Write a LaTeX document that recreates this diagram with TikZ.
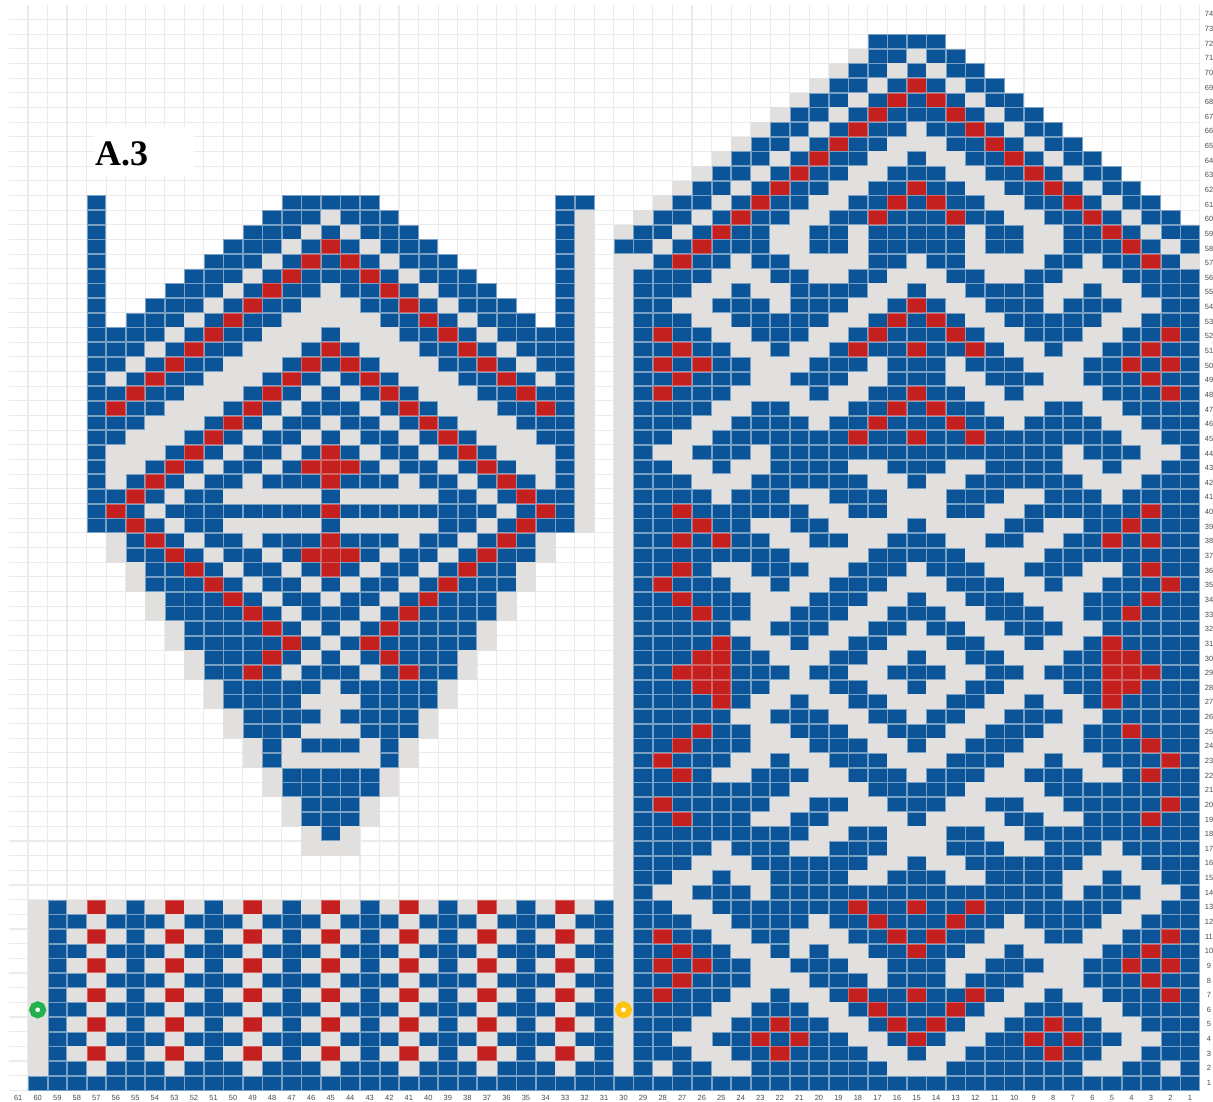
\documentclass[tikz,border=0pt]{standalone}
\usepackage{fontspec}
\setmainfont{Liberation Sans}
\newfontfamily\titlefont{Liberation Serif}
\definecolor{chartblue}{HTML}{0C5498}
\definecolor{chartred}{HTML}{C4201F}
\definecolor{chartgray}{HTML}{E2E0DF}
\definecolor{gridgray}{HTML}{EBEBEB}
\definecolor{ringgreencol}{HTML}{22B14C}
\definecolor{ringyellowcol}{HTML}{FFC20E}
\tikzset{
  bluecell/.style={fill=chartblue,draw=chartblue!55!white,line width=0.7pt},
  redcell/.style={fill=chartred,draw=chartred!70!white,line width=0.7pt},
  graycell/.style={fill=chartgray,draw=chartgray,line width=0.7pt},
  gridline/.style={draw=gridgray,line width=1.1pt},
  numlabel/.style={font=\fontsize{7.5}{8}\selectfont,text=black!70,inner sep=0pt},
  ringmark/.style={circle,draw=#1,line width=5.8pt,fill=white,minimum size=11.2pt,inner sep=0pt}
}
\newcount\colno
\newcommand\cellat[1]{\path[#1] ({1199.77+0.35-19.53*\the\colno},{1090.33+0.35-14.67*\rowno}) rectangle +(18.83,13.97);}
\def\drawcell#1{\if#1b\cellat{bluecell}\fi\if#1r\cellat{redcell}\fi\if#1g\cellat{graycell}\fi}
\def\cellloop#1{\ifx#1\relax\else\drawcell#1\advance\colno by -1 \expandafter\cellloop\fi}
\newcommand\crow[2]{\def\rowno{#1}\colno=60 \cellloop#2\relax}
\newcommand\rrow[2]{\def\rowno{#1}\colno=30 \cellloop#2\relax}
\begin{document}
\begin{tikzpicture}[x=1pt,y=-1pt]
\useasboundingbox[fill=white] (0,0) rectangle (1213,1101);
% grid
\foreach \c in {0,...,60} \draw[gridline] ({1199.77-19.53*\c},5) -- ({1199.77-19.53*\c},1090.33);
\foreach \r in {0,...,73} \draw[gridline] (9,{1090.33-14.67*\r}) -- (1199.77,{1090.33-14.67*\r});
% title
\fill[white] (94,127) rectangle (194,176);
\node[anchor=base west,inner sep=0pt,font=\titlefont\bfseries\fontsize{36}{36}\selectfont] (title) at (95,165) {A.3};
% cells
\rrow{72}{ooooo ooooo ooobb bbooo ooooo ooooo}
\rrow{71}{ooooo ooooo oogbb gbboo ooooo ooooo}
\rrow{70}{ooooo ooooo ogbbg bgbbo ooooo ooooo}
\rrow{69}{ooooo ooooo gbbgb rbgbb ooooo ooooo}
\rrow{68}{ooooo oooog bbgbr brbgb boooo ooooo}
\rrow{67}{ooooo ooogb bgbrb bbrbg bbooo ooooo}
\rrow{66}{ooooo oogbb gbrbb gbbrb gbboo ooooo}
\rrow{65}{ooooo ogbbg brbbg ggbbr bgbbo ooooo}
\rrow{64}{ooooo gbbgb rbbgg bggbb rbgbb ooooo}
\rrow{63}{oooog bbgbr bbggb bbggb brbgb boooo}
\rrow{62}{ooogb bgbrb bggbb rbbgg bbrbg bbooo}
\crow{61}{ooobo ooooo ooobb bbboo ooooo oobbo oogbb gbrbb ggbbr brbbg gbbrb gbboo}
\crow{60}{ooobo ooooo oobbb gbbbo ooooo oobgo ogbbg brbbg gbbrb bbrbb ggbbr bgbbo}
\crow{59}{ooobo ooooo obbbg bgbbb ooooo oobgo gbbgb rbbgg bbgbb bbbgb bggbb rbgbb}
\crow{58}{ooobo ooooo bbbgb rbgbb boooo oobgo bbgbr bbbgg bbgbb bbbgb bggbb brbgb}
\crow{57}{ooobo oooob bbgbr brbgb bbooo oobgo ggbrb bgbbg gggbb gbbgg ggbbg bbrbg}
\crow{56}{ooobo ooobb bgbrb bbrbg bbboo oobgo gbbbb gggbb ggbbg ggbbg gbbgg gbbbb}
\crow{55}{ooobo oobbb gbrbb gbbrb gbbbo oobgo gbbbg gbggb bbbgg bggbb bbggb ggbbb}
\crow{54}{ooobo obbbg brbbg ggbbr bgbbb oobgo gbbgg bbbgb bbggb rbggb bbgbb bggbb}
\crow{53}{ooobo bbbgb rbbgg gggbb rbgbb bobgo gbbbg gbbbb bggbr brbgg bbbbb ggbbb}
\crow{52}{ooobb bbgbr bbggg bgggb brbgb bbbgo gbrbb ggbbb ggbrb bbrbg gbbbg gbbrb}
\crow{51}{ooobb bgbrb bgggb rbggg bbrbg bbbgo gbbrb bggbg gbrbb rbbrb ggbgg bbrbb}
\crow{50}{ooobb gbrbb gggbr brbgg gbbrb gbbgo gbrbr bbggg bbbgb bbgbb bgggb brbrb}
\crow{49}{ooobg brbbg ggbrb gbrbg ggbbr bgbgo gbbrb bbggb bbggb bbggb bbggb bbrbb}
\crow{48}{ooobb rbbgg gbrbg bgbrb gggbb rbbgo gbrbb bgggg bggbb rbbgg bgggg bbbrb}
\crow{47}{ooobr bbggg brbgb bbgbr bgggb brbgo gbbbb ggbbg ggbbr brbbg ggbbg gbbbb}
\crow{46}{ooobb bgggb rbgbb gbbgb rbggg bbbgo gbbbg gbbbb gbbrb bbrbb gbbbb ggbbb}
\crow{45}{ooobb gggbr bgbbg bgbbg brbgg gbbgo gbbgg bbbbb bbrbb rbbrb bbbbb bggbb}
\crow{44}{ooobg ggbrb gbbgb rbgbb gbrbg ggbgo gbggb bbgbb bbbbb bbbbb bbbgb bbggb}
\crow{43}{ooobg gbrbg bbgbr rrbgb bgbrb ggbgo gbbgg bggbb bbggb bbggb bbbgg bggbb}
\crow{42}{ooobg brbgb bgbbb rbbbg bbgbr bgbgo gbbbg ggbbb bbbgg bggbb bbbbg ggbbb}
\crow{41}{ooobb rbgbb ggggg bgggg gbbgb rbbgo gbbbb gbbbg gbbbg ggbbb ggbbb gbbbb}
\crow{40}{ooobr bgbbb bbbbb rbbbb bbbbg brbgo gbbrb bbbbb ggbbg ggbbg gbbbb bbrbb}
\crow{39}{ooobb rbgbb ggggg bgggg gbbgb rbbgo gbbbr bbggb bgggg bgggg bbggb brbbb}
\crow{38}{oooog brbgb bgbbb rbbbg bbgbr bgooo gbbrb rbbgg bbggb bbggb bggbb rbrbb}
\crow{37}{oooog bbrbg bbgbr rrbgb bgbrb bgooo gbbbb bbbbg gggbb bbbgg ggbbb bbbbb}
\crow{36}{ooooo gbbrb gbbgb rbgbb gbrbb goooo gbbrb ggbbb ggbbb gbbbg gbbbg gbrbb}
\crow{35}{ooooo gbbbr bgbbg bgbbg brbbb goooo gbrbb bggbg gbbbg ggbbb ggbgg bbbrb}
\crow{34}{ooooo ogbbb rbgbb gbbgb rbbbg ooooo gbbrb bbggg bbbgg bggbb bgggb bbrbb}
\crow{33}{ooooo ogbbb brbgb bbgbr bbbbg ooooo gbbbr bbggb bbggb bbggb bbggb brbbb}
\crow{32}{ooooo oogbb bbrbg bgbrb bbbgo ooooo gbbbb bggbb bggbb gbbgg bbbgg bbbbb}
\crow{31}{ooooo oogbb bbbrb gbrbb bbbgo ooooo gbbbb rbggb ggbbg ggbbg gbggb rbbbb}
\crow{30}{ooooo ooogb bbrbg bgbrb bbgoo ooooo gbbbr rbbgg gbbgg bggbb gggbb rrbbb}
\crow{29}{ooooo ooogb brbgb bbgbr bbgoo ooooo gbbrr rbbbg bbggb bbggb bgbbb rrrbb}
\crow{28}{ooooo oooog bbbbb gbbbb bgooo ooooo gbbbr rbbgg gbbgg bggbb gggbb rrbbb}
\crow{27}{ooooo oooog bbbbg ggbbb bgooo ooooo gbbbb rbggb ggbbg ggbbg gbggb rbbbb}
\crow{26}{ooooo ooooo gbbbb gbbbb goooo ooooo gbbbb bggbb bggbb gbbgg bbbgg bbbbb}
\crow{25}{ooooo ooooo gbbbg ggbbb goooo ooooo gbbbr bbggb bbggb bbggb bbggb brbbb}
\crow{24}{ooooo ooooo ogbgb bbgbg ooooo ooooo gbbrb bbggg bbbgg bggbb bgggb bbrbb}
\crow{23}{ooooo ooooo ogbgg gggbg ooooo ooooo gbrbb bggbg gbbbg ggbbb ggbgg bbbrb}
\crow{22}{ooooo ooooo oogbb bbbgo ooooo ooooo gbbrb ggbbb ggbbb gbbbg gbbbg gbrbb}
\crow{21}{ooooo ooooo oogbb bbbgo ooooo ooooo gbbbb bbbbg gggbb bbbgg ggbbb bbbbb}
\crow{20}{ooooo ooooo ooogb bbgoo ooooo ooooo gbrbb bbbgg bbggb bbggb bggbb bbbrb}
\crow{19}{ooooo ooooo ooogb bbgoo ooooo ooooo gbbrb bbggb bgggg bgggg bbggb bbrbb}
\crow{18}{ooooo ooooo oooog bgooo ooooo ooooo gbbbb bbbbb ggbbg ggbbg gbbbb bbbbb}
\crow{17}{ooooo ooooo oooog ggooo ooooo ooooo gbbbb gbbbg gbbbg ggbbb ggbbb gbbbb}
\rrow{16}{gbbbg ggbbb bbbgg bggbb bbbbg ggbbb}
\rrow{15}{gbbgg bggbb bbggb bbggb bbbgg bggbb}
\rrow{14}{gbggb bbgbb bbbbb bbbbb bbbgb bbggb}
\crow{13}{gbgrg bgrgb grgbg rgbgr gbgrg bgrgb gbbgg bbbbb bbrbb rbbrb bbbbb bggbb}
\crow{12}{gbbgb bbgbb bgbbb gbbbg bbbgb bbgbb gbbbg gbbbb gbbrb bbrbb gbbbb ggbbb}
\crow{11}{gbgrg bgrgb grgbg rgbgr gbgrg bgrgb gbrbb ggbbg ggbbr brbbg ggbbg gbbrb}
\crow{10}{gbbgb bbgbb bgbbb gbbbg bbbgb bbgbb gbbrb bggbg bggbb rbbgg bgggg bbrbb}
\crow{9}{gbgrg bgrgb grgbg rgbgr gbgrg bgrgb gbrbr bbggb bbggb bbggb bbggb brbrb}
\crow{8}{gbbgb bbgbb bgbbb gbbbg bbbgb bbgbb gbbrb bbggg bbbgb bbgbb bgggb bbrbb}
\crow{7}{gbgrg bgrgb grgbg rgbgr gbgrg bgrgb gbrbb bggbg gbrbb rbbrb ggbgg bbbrb}
\crow{6}{gbbgb bbgbb bgbbb gbbbg bbbgb bbgbb gbbbb ggbbb ggbrb bbrbg gbbbg gbbbb}
\crow{5}{gbgrg bgrgb grgbg rgbgr gbgrg bgrgb gbbbg gbbrb bggbr brbgg bbrbb ggbbb}
\crow{4}{gbbgb bbgbb bgbbb gbbbg bbbgb bbgbb gbbgg bbrbr bbggb rbggb brbrb bggbb}
\crow{3}{gbgrg bgrgb grgbg rgbgr gbgrg bgrgb gbbbg gbbrb bbbgg bggbb bbrbb ggbbb}
\crow{2}{gbbgb bbgbb bgbbb gbbbg bbbgb bbgbb gbgbb ggbbb bbbbg ggbbb bbbbg gbbgb}
\crow{1}{bbbbb bbbbb bbbbb bbbbb bbbbb bbbbb bbbbb bbbbb bbbbb bbbbb bbbbb bbbbb}
% rings
\node[ringmark=ringgreencol] (ringgreen) at (37.7,1009.8) {};
\node[ringmark=ringyellowcol] (ringyellow) at (623.5,1009.8) {};
% numbers
\foreach \c in {1,...,61} \node[numlabel] (col\c) at ({1209.53-19.53*\c},1097.6) {\c};
\foreach \r in {1,...,74} \node[numlabel] (row\r) at (1209,{1097.64-14.64*\r}) {\r};
\end{tikzpicture}
\end{document}
